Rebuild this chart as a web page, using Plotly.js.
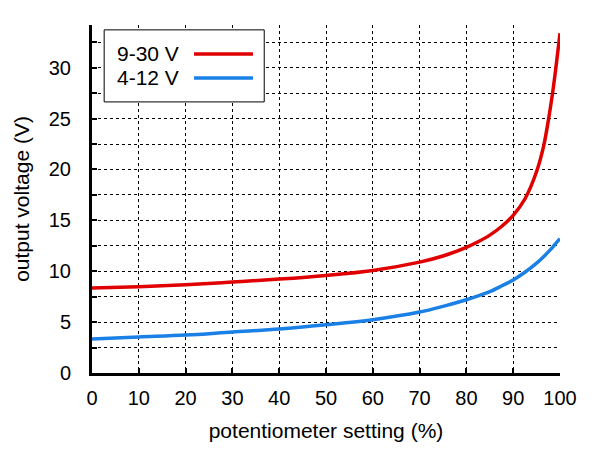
<!DOCTYPE html>
<html>
<head>
<meta charset="utf-8">
<script src="https://cdn.plot.ly/plotly-3.0.1.min.js"></script>
<style>
	html, body { margin: 0; padding: 0; background: #fff; }
	#plot { width: 600px; height: 450px; }
</style>
</head>
<body>
<div id="plot"></div>
<script>
"use strict";
// potentiometer setting (%) -> output voltage (V)
var setting=[0, 10, 20, 30, 40, 50, 60, 70, 75, 80, 82.5, 85, 87.5, 90, 92.5, 95, 96.5, 97.5, 98.5, 99.2, 100];
var volts9to30=[8.35, 8.48, 8.67, 8.94, 9.23, 9.59, 10.08, 10.9, 11.5, 12.35, 12.9, 13.55, 14.4, 15.5, 17.1, 19.8, 22.3, 24.8, 27.8, 30.3, 33.4];
var volts4to12=[3.34, 3.54, 3.73, 4.03, 4.32, 4.74, 5.24, 5.99, 6.55, 7.2, 7.58, 8.0, 8.55, 9.15, 9.9, 10.8, 11.43, 11.9, 12.4, 12.78, 13.2];
var seriesNames=['9-30 V', '4-12 V'];
var seriesColors=['#e00000', '#1a80e6'];
var yTicks=[0, 5, 10, 15, 20, 25, 30];
var xTicks=[0, 10, 20, 30, 40, 50, 60, 70, 80, 90, 100];

var FONT='Liberation Sans, Arial, sans-serif';

var traces=[volts9to30, volts4to12].map(function(vals, i){
	return {
		x: setting,
		y: vals,
		name: seriesNames[i],
		type: 'scatter',
		mode: 'lines',
		line: {color: seriesColors[i], width: 3.5, shape: 'spline', smoothing: 1},
		showlegend: false
	};
});

//hand-made legend (text left, sample line right, like the original)
var legendRows=[0.917, 0.848];
var shapes=[{
	type: 'rect', xref: 'paper', yref: 'paper',
	x0: 0.026, x1: 0.368, y0: 0.779, y1: 0.986,
	line: {color: '#000', width: 1}, fillcolor: '#fff', layer: 'above'
}];
var annotations=[];
legendRows.forEach(function(yy, i){
	shapes.push({
		type: 'line', xref: 'paper', yref: 'paper',
		x0: 0.218, x1: 0.344, y0: yy, y1: yy,
		line: {color: seriesColors[i], width: 3.5}, layer: 'above'
	});
	annotations.push({
		xref: 'paper', yref: 'paper', x: 0.05, y: yy,
		xanchor: 'left', yanchor: 'middle', showarrow: false,
		text: seriesNames[i], font: {family: FONT, size: 21, color: '#000'}
	});
});

var layout={
	width: 600, height: 450,
	margin: {l: 92, r: 40, t: 25, b: 77},
	paper_bgcolor: '#fff', plot_bgcolor: '#fff',
	font: {family: FONT, size: 20, color: '#000'},
	xaxis: {
		range: [0, 100], tickvals: xTicks,
		showline: true, linewidth: 3, linecolor: '#000',
		ticks: 'inside', ticklen: 5, tickwidth: 2, tickcolor: '#000',
		showgrid: true, gridcolor: '#000', gridwidth: 1, griddash: 'dot',
		zeroline: false, ticklabelstandoff: 5,
		title: {text: 'potentiometer setting (%)', font: {size: 21}, standoff: 16}
	},
	yaxis: {
		range: [0, 34.2], tickvals: yTicks,
		showline: true, linewidth: 3, linecolor: '#000',
		ticks: 'inside', ticklen: 5, tickwidth: 2, tickcolor: '#000',
		showgrid: true, gridcolor: '#000', gridwidth: 1, griddash: 'dot',
		minor: {dtick: 2.5, tick0: 0, ticks: 'inside', ticklen: 5, tickwidth: 2, tickcolor: '#000',
			showgrid: true, gridcolor: '#000', gridwidth: 1, griddash: 'dot'},
		zeroline: false, ticklabelstandoff: 14,
		title: {text: 'output voltage (V)', font: {size: 21}, standoff: 14}
	},
	shapes: shapes,
	annotations: annotations
};

Plotly.newPlot('plot', traces, layout, {staticPlot: true});
</script>
</body>
</html>
